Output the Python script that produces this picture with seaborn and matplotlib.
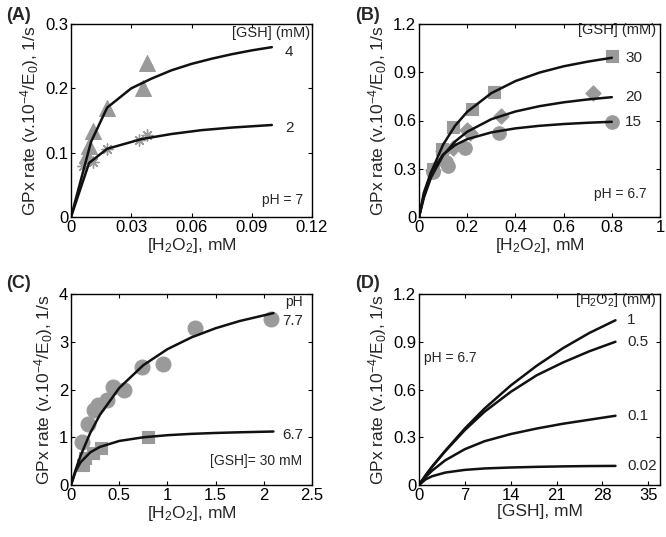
import numpy as np
import pandas as pd
import matplotlib
matplotlib.use("Agg")
import matplotlib.pyplot as plt
import seaborn as sns

# ---- datos ----
# (A) pH 7
a_x4 = [0.008, 0.009, 0.011, 0.018, 0.036, 0.038]
a_y4 = [0.097, 0.110, 0.133, 0.170, 0.200, 0.240]
a_x2 = [0.006, 0.011, 0.018, 0.034, 0.038]
a_y2 = [0.079, 0.086, 0.105, 0.120, 0.127]
a_fx4 = [0, 0.010, 0.018, 0.030, 0.040, 0.050, 0.060, 0.070, 0.080, 0.090, 0.100]
a_fy4 = [0, 0.117, 0.170, 0.200, 0.215, 0.228, 0.238, 0.246, 0.253, 0.259, 0.264]
a_fx2 = [0, 0.009, 0.018, 0.035, 0.050, 0.065, 0.080, 0.100]
a_fy2 = [0, 0.084, 0.106, 0.121, 0.129, 0.135, 0.139, 0.143]

# (B) pH 6.7
b_x30 = [0.06, 0.095, 0.14, 0.22, 0.31, 0.80]
b_y30 = [0.30, 0.42, 0.56, 0.67, 0.775, 1.00]
b_x20 = [0.06, 0.10, 0.14, 0.20, 0.21, 0.34, 0.72]
b_y20 = [0.29, 0.41, 0.43, 0.54, 0.52, 0.63, 0.77]
b_x15 = [0.06, 0.11, 0.12, 0.19, 0.33, 0.80]
b_y15 = [0.28, 0.34, 0.32, 0.43, 0.52, 0.59]
b_fx = [0, 0.02, 0.05, 0.10, 0.15, 0.20, 0.30, 0.40, 0.50, 0.60, 0.70, 0.80]
b_fy30 = [0, 0.129, 0.277, 0.450, 0.568, 0.654, 0.770, 0.845, 0.898, 0.937, 0.966, 0.990]
b_fy20 = [0, 0.119, 0.246, 0.383, 0.470, 0.530, 0.608, 0.656, 0.689, 0.713, 0.731, 0.745]
b_fy15 = [0, 0.151, 0.279, 0.389, 0.447, 0.484, 0.526, 0.551, 0.567, 0.578, 0.586, 0.592]

# (C) [GSH] = 30 mM
c_x77 = [0.11, 0.18, 0.24, 0.28, 0.37, 0.44, 0.55, 0.74, 0.95, 1.29, 2.07]
c_y77 = [0.91, 1.27, 1.58, 1.67, 1.79, 2.06, 1.99, 2.48, 2.53, 3.28, 3.47]
c_x67 = [0.12, 0.15, 0.23, 0.31, 0.80]
c_y67 = [0.42, 0.56, 0.67, 0.78, 1.01]
c_fx = [0, 0.05, 0.1, 0.2, 0.3, 0.5, 0.75, 1.0, 1.25, 1.5, 1.75, 2.1]
c_fy77 = [0, 0.330, 0.617, 1.093, 1.470, 2.031, 2.509, 2.844, 3.092, 3.283, 3.434, 3.600]
c_fy67 = [0, 0.298, 0.478, 0.684, 0.798, 0.922, 0.999, 1.043, 1.071, 1.090, 1.104, 1.120]

# (D) pH 6.7, curvas vs [GSH]
d_gsh = [0, 1, 2, 4, 7, 10, 14, 18, 22, 26, 30]
d_h2o2 = ["1", "0.5", "0.1", "0.02"]
d_y1 = [0, 0.060, 0.115, 0.215, 0.355, 0.480, 0.625, 0.750, 0.860, 0.955, 1.035]
d_y05 = [0, 0.060, 0.115, 0.212, 0.345, 0.460, 0.585, 0.690, 0.770, 0.840, 0.900]
d_y01 = [0, 0.050, 0.090, 0.155, 0.225, 0.275, 0.320, 0.355, 0.385, 0.410, 0.435]
d_y002 = [0, 0.035, 0.055, 0.078, 0.095, 0.104, 0.110, 0.114, 0.117, 0.119, 0.120]

# ejes
a_xt = [0, 0.03, 0.06, 0.09, 0.12]
a_xtl = ["0", "0.03", "0.06", "0.09", "0.12"]
a_yt = [0, 0.1, 0.2, 0.3]
a_ytl = ["0", "0.1", "0.2", "0.3"]
b_xt = [0, 0.2, 0.4, 0.6, 0.8, 1.0]
b_xtl = ["0", "0.2", "0.4", "0.6", "0.8", "1"]
b_yt = [0, 0.3, 0.6, 0.9, 1.2]
b_ytl = ["0", "0.3", "0.6", "0.9", "1.2"]
c_xt = [0, 0.5, 1.0, 1.5, 2.0, 2.5]
c_xtl = ["0", "0.5", "1", "1.5", "2", "2.5"]
c_yt = [0, 1, 2, 3, 4]
c_ytl = ["0", "1", "2", "3", "4"]
d_xt = [0, 7, 14, 21, 28, 35]
d_xtl = ["0", "7", "14", "21", "28", "35"]
d_xmax = 36.8

GRIS = "#9a9a9a"
NEGRO = "#111111"
YLAB = r"GPx rate (v.10$^{\mathregular{-4}}$/E$_{\mathregular{0}}$), 1/s"
XLAB_H = r"[H$_{\mathregular{2}}$O$_{\mathregular{2}}$], mM"

sns.set_theme(style="ticks")
plt.rcParams.update({
    "font.family": ["Liberation Sans", "DejaVu Sans"],
    "mathtext.fontset": "custom",
    "mathtext.rm": "Liberation Sans",
    "mathtext.it": "Liberation Sans",
    "xtick.direction": "in",
    "ytick.direction": "in",
    "xtick.top": True,
    "ytick.right": True,
    "axes.linewidth": 1.0,
    "axes.edgecolor": "black",
    "xtick.color": "black",
    "ytick.color": "black",
    "xtick.labelsize": 12,
    "ytick.labelsize": 12,
    "axes.labelsize": 12.5,
})

fig = plt.figure(figsize=(6.66, 5.37), dpi=100)
W, H = 241 / 666, 193 / 537
axA = fig.add_axes([71 / 666, 1 - 217 / 537, W, H])
axB = fig.add_axes([419 / 666, 1 - 217 / 537, W, H])
axC = fig.add_axes([71 / 666, 1 - 485 / 537, W, 191 / 537])
axD = fig.add_axes([419 / 666, 1 - 485 / 537, W, 191 / 537])


def curva(ax, x, y):
    sns.lineplot(x=x, y=y, ax=ax, color=NEGRO, lw=1.8, sort=False,
                 estimator=None, legend=False)


def puntos(ax, x, y, marker, s, lw=0.8):
    sns.scatterplot(x=x, y=y, ax=ax, color=GRIS, marker=marker, s=s,
                    edgecolor=GRIS, linewidth=lw, legend=False, zorder=1)


def formato(ax, xt, xtl, yt, ytl, xlab, xmax=None):
    ax.set_xlim(xt[0], xmax if xmax else xt[-1])
    ax.set_ylim(yt[0], yt[-1])
    ax.set_xticks(xt)
    ax.set_xticklabels(xtl)
    ax.set_yticks(yt)
    ax.set_yticklabels(ytl)
    ax.tick_params(length=3, width=0.8, pad=2)
    ax.set_xlabel(xlab, labelpad=1)
    ax.set_ylabel(YLAB, labelpad=3)
    for s in ax.spines.values():
        s.set_visible(True)


# (A)
puntos(axA, a_x4, a_y4, "^", 130)
puntos(axA, a_x2, a_y2, (8, 2, 0), 65, lw=1.0)
curva(axA, a_fx4, a_fy4)
curva(axA, a_fx2, a_fy2)
formato(axA, a_xt, a_xtl, a_yt, a_ytl, XLAB_H)
axA.text(0.119, 0.286, "[GSH] (mM)", ha="right", va="center", fontsize=10.5)
axA.text(0.1086, 0.257, "4", ha="center", va="center", fontsize=11)
axA.text(0.1086, 0.138, "2", ha="center", va="center", fontsize=11)
axA.text(0.1155, 0.026, "pH = 7", ha="right", va="center", fontsize=10)

# (B)
puntos(axB, b_x30, b_y30, "s", 75)
puntos(axB, b_x20, b_y20, "D", 60)
puntos(axB, b_x15, b_y15, "o", 95)
curva(axB, b_fx, b_fy30)
curva(axB, b_fx, b_fy20)
curva(axB, b_fx, b_fy15)
formato(axB, b_xt, b_xtl, b_yt, b_ytl, XLAB_H)
axB.text(0.985, 1.16, "[GSH] (mM)", ha="right", va="center", fontsize=10.5)
for lab, yv in zip(["30", "20", "15"], [b_fy30[-1], b_fy20[-1], b_fy15[-1]]):
    axB.text(0.89, yv, lab, ha="center", va="center", fontsize=11)
axB.text(0.945, 0.145, "pH = 6.7", ha="right", va="center", fontsize=10)

# (C)
puntos(axC, c_x77, c_y77, "o", 115)
puntos(axC, c_x67, c_y67, "s", 75)
curva(axC, c_fx, c_fy77)
curva(axC, c_fx, c_fy67)
formato(axC, c_xt, c_xtl, c_yt, c_ytl, XLAB_H)
axC.text(2.40, 3.83, "pH", ha="right", va="center", fontsize=10)
axC.text(2.30, 3.43, "7.7", ha="center", va="center", fontsize=11)
axC.text(2.30, 1.05, "6.7", ha="center", va="center", fontsize=11)
axC.text(2.40, 0.50, "[GSH]= 30 mM", ha="right", va="center", fontsize=10)

# (D)
for lab, yv in zip(d_h2o2, [d_y1, d_y05, d_y01, d_y002]):
    curva(axD, d_gsh, yv)
    axD.text(31.8, yv[-1], lab, ha="left", va="center", fontsize=11)
formato(axD, d_xt, d_xtl, b_yt, b_ytl, "[GSH], mM", xmax=d_xmax)
axD.text(36.3, 1.16, r"[H$_{\mathregular{2}}$O$_{\mathregular{2}}$] (mM)",
         ha="right", va="center", fontsize=10.5)
axD.text(0.7, 0.80, "pH = 6.7", ha="left", va="center", fontsize=10)

# letras de panel
for letra, (px, py) in zip("ABCD", [(6, 15), (355, 15), (6, 283), (355, 283)]):
    fig.text(px / 666, 1 - py / 537, f"({letra})", fontsize=13,
             fontweight="bold", ha="left", va="center")

fig.savefig("out.png", dpi=100)
